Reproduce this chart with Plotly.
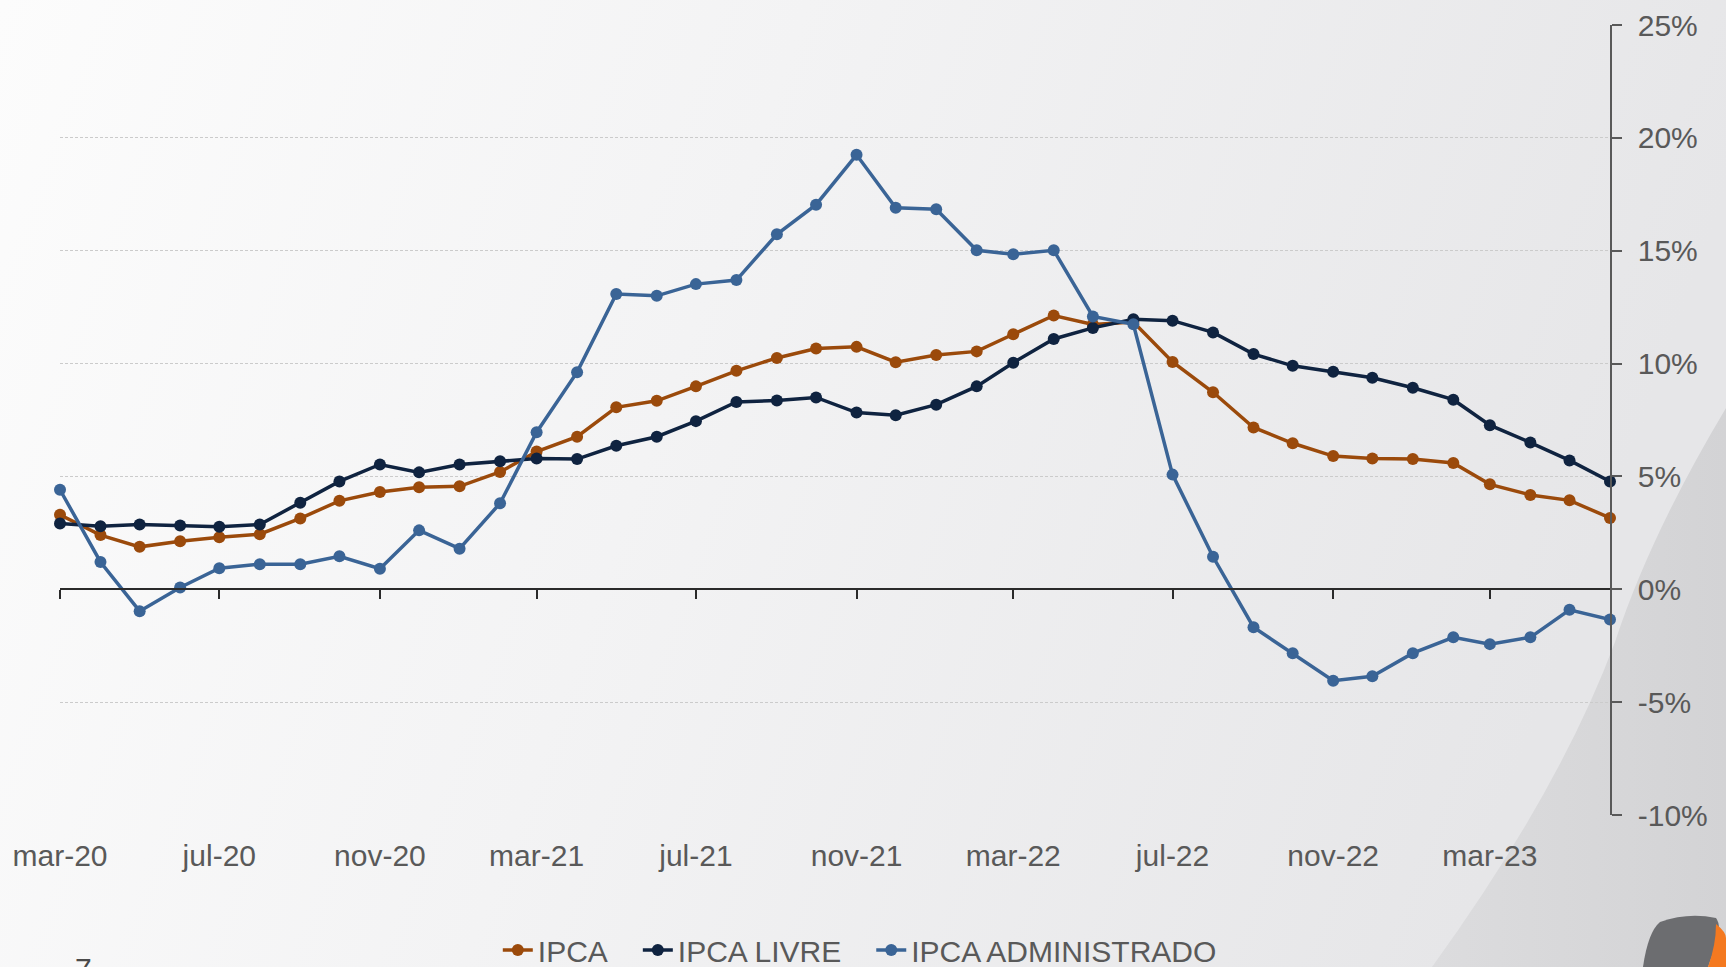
import base64
import plotly.graph_objects as go

months = [
    "2020-03-01", "2020-04-01", "2020-05-01", "2020-06-01", "2020-07-01", "2020-08-01",
    "2020-09-01", "2020-10-01", "2020-11-01", "2020-12-01", "2021-01-01", "2021-02-01",
    "2021-03-01", "2021-04-01", "2021-05-01", "2021-06-01", "2021-07-01", "2021-08-01",
    "2021-09-01", "2021-10-01", "2021-11-01", "2021-12-01", "2022-01-01", "2022-02-01",
    "2022-03-01", "2022-04-01", "2022-05-01", "2022-06-01", "2022-07-01", "2022-08-01",
    "2022-09-01", "2022-10-01", "2022-11-01", "2022-12-01", "2023-01-01", "2023-02-01",
    "2023-03-01", "2023-04-01", "2023-05-01", "2023-06-01",
]

ipca = [3.30, 2.40, 1.88, 2.13, 2.31, 2.44, 3.14, 3.92, 4.31, 4.52, 4.56, 5.20,
        6.10, 6.76, 8.06, 8.35, 8.99, 9.68, 10.25, 10.67, 10.74, 10.06, 10.38, 10.54,
        11.30, 12.13, 11.73, 11.84, 10.07, 8.73, 7.17, 6.47, 5.90, 5.79, 5.77, 5.60,
        4.65, 4.18, 3.94, 3.16]

ipca_livre = [2.91, 2.79, 2.87, 2.83, 2.77, 2.87, 3.83, 4.78, 5.53, 5.18, 5.53, 5.67,
              5.79, 5.77, 6.36, 6.76, 7.45, 8.30, 8.36, 8.50, 7.83, 7.71, 8.18, 8.99,
              10.04, 11.09, 11.58, 11.96, 11.90, 11.38, 10.42, 9.90, 9.64, 9.37, 8.93, 8.40,
              7.27, 6.50, 5.71, 4.78]

ipca_adm = [4.41, 1.21, -0.97, 0.08, 0.93, 1.11, 1.11, 1.46, 0.91, 2.61, 1.80, 3.81,
            6.96, 9.62, 13.08, 13.00, 13.52, 13.70, 15.73, 17.04, 19.25, 16.90, 16.84, 15.02,
            14.84, 15.02, 12.09, 11.74, 5.08, 1.44, -1.68, -2.83, -4.05, -3.85, -2.83, -2.13,
            -2.43, -2.13, -0.91, -1.34]

tick_vals = ["2020-03-01", "2020-07-01", "2020-11-01", "2021-03-01", "2021-07-01",
             "2021-11-01", "2022-03-01", "2022-07-01", "2022-11-01", "2023-03-01"]
tick_text = ["mar-20", "jul-20", "nov-20", "mar-21", "jul-21",
             "nov-21", "mar-22", "jul-22", "nov-22", "mar-23"]

y_tick_vals = [-10, -5, 0, 5, 10, 15, 20, 25]
y_tick_text = ["-10%", "-5%", "0%", "5%", "10%", "15%", "20%", "25%"]

series_names = ["IPCA", "IPCA LIVRE", "IPCA ADMINISTRADO"]
series_colors = ["#9b4a0b", "#0f2340", "#3a6496"]
series_values = [ipca, ipca_livre, ipca_adm]

W, H = 1726, 967
ML, MR, MT, MB = 60, 116, 25, 152
PW, PH = W - ML - MR, H - MT - MB

FONT = "Liberation Sans, Arial, sans-serif"
TXT = "#595959"
GAP = "\u00a0" * 3  # extra spacing between legend entries

svg = f'''<svg xmlns="http://www.w3.org/2000/svg" width="{W}" height="{H}" viewBox="0 0 {W} {H}">
<defs>
<linearGradient id="g" x1="0" y1="0" x2="1" y2="0.2">
<stop offset="0" stop-color="#fcfcfc"/>
<stop offset="0.45" stop-color="#f3f3f4"/>
<stop offset="1" stop-color="#e6e6e8"/>
</linearGradient>
<linearGradient id="d" x1="0" y1="0" x2="1" y2="0">
<stop offset="0" stop-color="#dcdcde"/>
<stop offset="1" stop-color="#d3d3d5"/>
</linearGradient>
</defs>
<rect x="0" y="0" width="{W}" height="{H}" fill="url(#g)"/>
<path d="M1726,408 Q1650,535 1615,642 Q1560,790 1432,967 L1726,967 Z" fill="url(#d)"/>
<path d="M1643,967 Q1648,932 1660,922 Q1688,912 1716,918 Q1722,926 1716,945 L1708,967 Z" fill="#6c6d70"/>
<path d="M1716,924 Q1726,932 1726,938 L1726,967 L1708,967 Q1716,945 1716,924 Z" fill="#f47920"/>
</svg>'''
bg_src = "data:image/svg+xml;base64," + base64.b64encode(svg.encode()).decode()

fig = go.Figure()
for i, (name, color, vals) in enumerate(zip(series_names, series_colors, series_values)):
    label = name + (GAP if i < len(series_names) - 1 else "")
    fig.add_trace(go.Scatter(
        x=months, y=vals, name=label, mode="lines+markers",
        line=dict(color=color, width=3.5),
        marker=dict(color=color, size=12),
        cliponaxis=False,
    ))

# invisible helper trace so the zero-line axis is drawn
fig.add_trace(go.Scatter(x=[months[0]], y=[0], xaxis="x2", mode="markers",
                         marker=dict(opacity=0), showlegend=False, hoverinfo="skip"))

fig.update_layout(
    width=W, height=H,
    margin=dict(l=ML, r=MR, t=MT, b=MB, autoexpand=False),
    paper_bgcolor="#f4f4f5",
    plot_bgcolor="rgba(0,0,0,0)",
    font=dict(family=FONT, size=30, color=TXT),
    images=[dict(source=bg_src, xref="paper", yref="paper",
                 x=-ML / PW, y=1 + MT / PH, sizex=W / PW, sizey=H / PH,
                 xanchor="left", yanchor="top", sizing="stretch", layer="below")],
    xaxis=dict(
        range=[months[0], months[-1]],
        tickvals=tick_vals, ticktext=tick_text,
        showgrid=False, zeroline=False, showline=False, automargin=False,
        ticks="outside", ticklen=14, tickcolor="rgba(0,0,0,0)",
        tickfont=dict(size=30, color=TXT),
    ),
    xaxis2=dict(
        overlaying="x", matches="x", anchor="free", position=10 / 35,
        range=[months[0], months[-1]], automargin=False,
        tickvals=tick_vals, showticklabels=False,
        showgrid=False, zeroline=False,
        showline=True, linecolor="#2a2a2a", linewidth=2,
        ticks="outside", ticklen=9, tickwidth=2, tickcolor="#2a2a2a",
    ),
    yaxis=dict(
        side="right", range=[-10, 25], tickvals=y_tick_vals, ticktext=y_tick_text,
        showgrid=True, gridcolor="#cbcbcb", gridwidth=1, griddash="3px,2px",
        zeroline=False, showline=True, linecolor="#595959", linewidth=1.5,
        ticks="outside", ticklen=10, tickcolor="#595959", tickwidth=1.5,
        ticklabelstandoff=10,
        tickfont=dict(size=30, color=TXT), automargin=False,
    ),
    legend=dict(
        orientation="h", x=0.516, xanchor="center",
        y=-(950 - (H - MB)) / PH, yanchor="middle",
        font=dict(size=30, color=TXT), bgcolor="rgba(0,0,0,0)",
        itemwidth=30, tracegroupgap=0,
    ),
    annotations=[dict(text="– 7", xref="paper", yref="paper",
                      x=(48 - ML) / PW, y=-(950 - (H - MB)) / PH,
                      xanchor="left", yanchor="top", showarrow=False,
                      font=dict(size=30, color="#4a4a4a"))],
    showlegend=True,
)

fig.write_html(
    "out.html",
    config={"displayModeBar": False},
    post_script="document.body.style.margin='0';document.body.style.overflow='hidden';",
)
